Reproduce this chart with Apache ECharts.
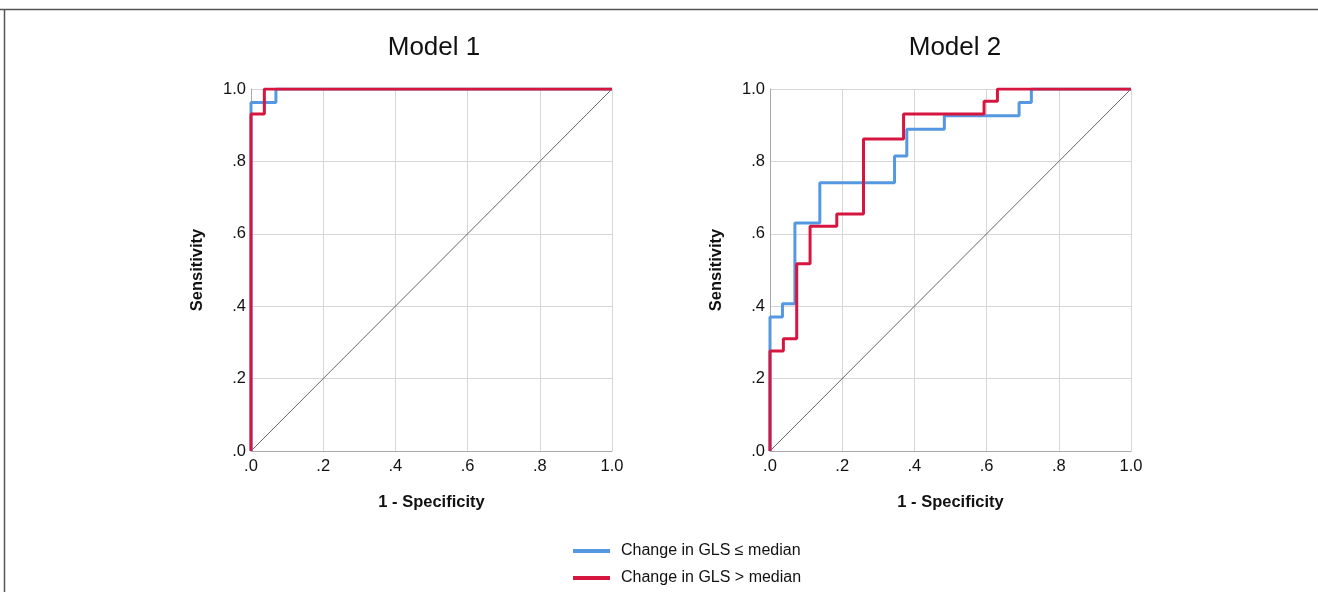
<!DOCTYPE html>
<html>
<head>
<meta charset="utf-8">
<script src="https://cdn.jsdelivr.net/npm/echarts@6/dist/echarts.min.js"></script>
<style>
html,body{margin:0;padding:0;background:#fff;}
#chart{width:1318px;height:592px;}
</style>
</head>
<body>
<div id="chart"></div>
<script>
// ---- data (ROC points: [1 - specificity, sensitivity]) ----
var titles = ['Model 1', 'Model 2'];
var seriesNames = ['Change in GLS \u2264 median', 'Change in GLS > median'];
var tickLabels = ['.0', '.2', '.4', '.6', '.8', '1.0'];
var tickValues = [0, 0.2, 0.4, 0.6, 0.8, 1.0];

var m1Low  = [[0,0],[0.069,0.963],[1,1]];
var m1High = [[0,0],[0.037,0.931],[1,1]];

var m2Low  = [[0,0],[0.0345,0.370],[0.069,0.407],[0.138,0.630],[0.345,0.741],[0.379,0.815],[0.483,0.889],[0.690,0.926],[0.724,0.963],[1,1]];
var m2High = [[0,0],[0.037,0.276],[0.074,0.310],[0.111,0.517],[0.185,0.621],[0.259,0.655],[0.370,0.862],[0.593,0.931],[0.630,0.966],[1,1]];

var diagonal = [[0,0],[1,1]];

// ---- chart ----
var BLUE = '#5598e2';
var RED = '#d6163f';
var chart = echarts.init(document.getElementById('chart'));
var font = 'Arial, "Liberation Sans", sans-serif';

function fmt(v){
  for (var i = 0; i < tickValues.length; i++) {
    if (Math.abs(v - tickValues[i]) < 1e-6) return tickLabels[i];
  }
  return '';
}

function xAxis(idx){
  return {
    type:'value', gridIndex: idx, min:0, max:1, interval:0.2,
    name:'1 - Specificity', nameLocation:'middle', nameGap:43,
    nameTextStyle:{fontFamily:font, fontWeight:'bold', fontSize:16.5, color:'#111'},
    axisLine:{show:true, lineStyle:{color:'#a8a8a8', width:1}},
    axisTick:{show:false},
    axisLabel:{formatter:fmt, fontFamily:font, fontSize:16.5, color:'#111', margin:7},
    splitLine:{show:true, lineStyle:{color:'#d6d6d6', width:1}}
  };
}
function yAxis(idx){
  return {
    type:'value', gridIndex: idx, min:0, max:1, interval:0.2,
    name:'Sensitivity', nameLocation:'middle', nameGap:45, nameRotate:90,
    nameTextStyle:{fontFamily:font, fontWeight:'bold', fontSize:16.5, color:'#111'},
    axisLine:{show:true, lineStyle:{color:'#a8a8a8', width:1}},
    axisTick:{show:false},
    axisLabel:{formatter:fmt, fontFamily:font, fontSize:16.5, color:'#111', margin:5},
    splitLine:{show:true, lineStyle:{color:'#d6d6d6', width:1}}
  };
}
function roc(name, data, color, idx, z){
  return {
    name:name, type:'line', xAxisIndex:idx, yAxisIndex:idx, data:data,
    step:'start', showSymbol:false, symbol:'none', z:z,
    lineStyle:{color:color, width:3}, itemStyle:{color:color},
    emphasis:{disabled:true}, silent:true, animation:false
  };
}
function diag(idx){
  return {
    type:'line', xAxisIndex:idx, yAxisIndex:idx, data:diagonal, showSymbol:false, symbol:'none',
    lineStyle:{color:'#666', width:1}, silent:true, animation:false, z:1
  };
}
function legendItem(i, top){
  return {
    data:[seriesNames[i]], left:573, top:top, padding:0,
    icon:'rect', itemWidth:37, itemHeight:4,
    textStyle:{fontFamily:font, fontSize:16, color:'#111', padding:[0,0,0,6]},
    selectedMode:false
  };
}

var option = {
  animation:false,
  backgroundColor:'#fff',
  title:[
    {text:titles[0], left:429, top:30, textAlign:'center', textStyle:{fontFamily:font, fontWeight:'normal', fontSize:26, color:'#111'}},
    {text:titles[1], left:950, top:30, textAlign:'center', textStyle:{fontFamily:font, fontWeight:'normal', fontSize:26, color:'#111'}}
  ],
  grid:[
    {left:251, top:89, width:361, height:362},
    {left:770, top:89, width:361, height:362}
  ],
  xAxis:[xAxis(0), xAxis(1)],
  yAxis:[yAxis(0), yAxis(1)],
  legend:[legendItem(0, 543), legendItem(1, 570)],
  graphic:[
    {type:'line', shape:{x1:0, y1:9.5, x2:1318, y2:9.5}, style:{stroke:'#555', lineWidth:1.5}, silent:true},
    {type:'line', shape:{x1:4.5, y1:9.5, x2:4.5, y2:592}, style:{stroke:'#555', lineWidth:1.5}, silent:true}
  ],
  series:[
    diag(0), diag(1),
    roc(seriesNames[0], m1Low, BLUE, 0, 2),
    roc(seriesNames[1], m1High, RED, 0, 3),
    roc(seriesNames[0], m2Low, BLUE, 1, 2),
    roc(seriesNames[1], m2High, RED, 1, 3)
  ]
};
chart.setOption(option);
</script>
</body>
</html>
